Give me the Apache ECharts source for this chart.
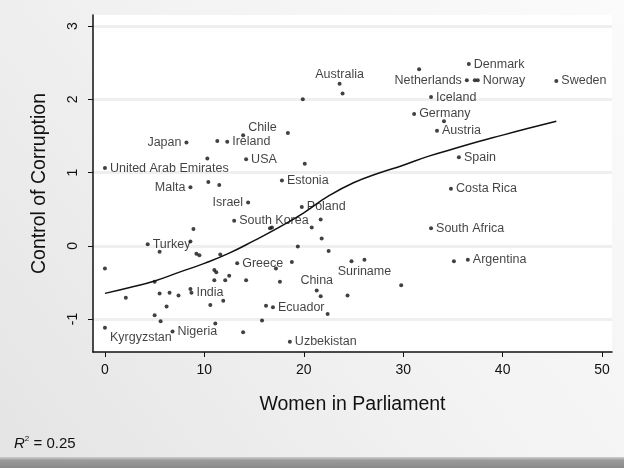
<!DOCTYPE html>
<html>
<head>
<meta charset="utf-8">
<script src="https://cdn.jsdelivr.net/npm/echarts@6/dist/echarts.min.js"></script>
<style>html,body{margin:0;padding:0;background:#fff}#c{width:624px;height:468px}</style>
</head>
<body>
<div id="c"></div>
<script>
// Women in parliament (%)
const women = [36.6,31.6,36.4,37.2,37.5,45.4,32.8,31.1,34.1,33.4,35.6,23.6,23.9,19.9,13.9,12.3,11.3,8.2,18.4,10.3,14.2,20.1,0.0,17.8,10.4,11.5,8.6,14.4,13.0,19.8,16.6,16.8,21.7,20.8,21.8,19.4,22.5,8.9,4.3,8.6,5.5,9.2,9.5,11.6,0.0,11.0,11.2,13.3,17.2,18.8,11.0,12.1,12.5,14.2,17.6,5.0,2.1,5.5,6.5,7.4,8.6,8.7,6.2,10.6,11.9,5.0,5.6,11.1,15.8,0.0,6.8,13.9,16.9,16.2,21.3,21.7,22.4,24.4,18.6,34.8,32.8,24.8,26.1,29.8,35.1,36.5];
// Control of corruption
const corruption = [2.48,2.41,2.26,2.26,2.26,2.25,2.03,1.80,1.70,1.57,1.21,2.21,2.08,2.00,1.51,1.42,1.43,1.41,1.54,1.19,1.18,1.12,1.06,0.89,0.87,0.83,0.80,0.59,0.34,0.53,0.24,0.25,0.36,0.25,0.10,-0.01,-0.07,0.23,0.02,0.06,-0.08,-0.11,-0.13,-0.12,-0.31,-0.33,-0.36,-0.24,-0.31,-0.22,-0.47,-0.47,-0.41,-0.47,-0.49,-0.49,-0.71,-0.65,-0.64,-0.68,-0.59,-0.64,-0.83,-0.81,-0.75,-0.95,-1.03,-1.06,-1.02,-1.12,-1.17,-1.18,-0.84,-0.82,-0.61,-0.69,-0.93,-0.68,-1.31,0.78,0.24,-0.21,-0.19,-0.54,-0.21,-0.19];
// Country labels ('' = unlabeled)
const countries = ['Denmark','','Netherlands','','Norway','Sweden','Iceland','Germany','','Austria','Spain','Australia','','','Chile','Ireland','','Japan','','','USA','','United Arab Emirates','Estonia','','','Malta','Israel','South Korea','Poland','','','','','','','','','Turkey','','','','','','','','','Greece','','','','','','','','','','','','','','India','','','','','','','','Kyrgyzstan','Nigeria','','Ecuador','','China','','','','Uzbekistan','Costa Rica','South Africa','','Suriname','','','Argentina'];
// Fitted curve
const fitX = [0,2.5,5,7.5,10,12.5,15,17.5,20,22.5,25,27.5,30,32.5,35,37.5,40,42.5,45.4];
const fitY = [-0.65,-0.57,-0.48,-0.36,-0.24,-0.10,0.07,0.25,0.45,0.68,0.86,0.99,1.10,1.22,1.32,1.42,1.51,1.60,1.70];
const xTicks = [0,10,20,30,40,50];
const yTicks = [-1,0,1,2,3];

const FONT = "'Liberation Sans', Arial, sans-serif";
const leftLabels = {'Japan':1,'Malta':1,'Israel':1,'Netherlands':1};
const topLabels = {'Australia':1,'China':1};
const bottomLabels = {'Suriname':1};
const offsets = {'Chile':[0,-8],'Kyrgyzstan':[0,10]};

const pts = women.map((w,i)=>{
  const name = countries[i];
  const p = {value:[w, corruption[i]], name:name};
  if (name) {
    let pos = 'right';
    if (leftLabels[name]) pos = 'left';
    if (topLabels[name]) pos = 'top';
    if (bottomLabels[name]) pos = 'bottom';
    p.label = {show:true, position:pos, distance: (pos==='top')?1:3, formatter:name, offset: offsets[name]||[0,0]};
  }
  return p;
});

const chart = echarts.init(document.getElementById('c'));
chart.setOption({
  animation:false,
  backgroundColor:{type:'linear',x:0,y:1,x2:1,y2:0,colorStops:[{offset:0,color:'#e4e4e4'},{offset:0.5,color:'#f2f2f2'},{offset:1,color:'#fbfbfb'}]},
  grid:{left:93,right:12,top:15,bottom:116,show:true,backgroundColor:'#ffffff',borderWidth:0},
  xAxis:{type:'value',min:-1.2,max:51,
    name:'Women in Parliament',nameLocation:'middle',nameGap:43,
    nameTextStyle:{fontFamily:FONT,fontSize:19.5,color:'#111'},
    axisLine:{show:true,onZero:false,lineStyle:{color:'#111',width:1.5}},
    axisTick:{show:true,length:5,lineStyle:{color:'#111'},customValues:xTicks},
    axisLabel:{fontFamily:FONT,fontSize:14,color:'#111',margin:11,customValues:xTicks},
    splitLine:{show:false}},
  yAxis:{type:'value',min:-1.45,max:3.15,
    name:'Control of Corruption',nameLocation:'middle',nameGap:43,
    nameTextStyle:{fontFamily:FONT,fontSize:19.5,color:'#111'},
    axisLine:{show:true,onZero:false,lineStyle:{color:'#111',width:1.5}},
    axisTick:{show:true,length:5,lineStyle:{color:'#111'},customValues:yTicks},
    axisLabel:{fontFamily:FONT,fontSize:14,color:'#111',margin:13,rotate:90,customValues:yTicks},
    splitLine:{show:true,lineStyle:{color:'#efefef',width:3}}},
  series:[
    {type:'scatter',data:pts,symbol:'circle',symbolSize:4,itemStyle:{color:'#111'},
     label:{fontFamily:FONT,fontSize:12.5,color:'#111'},z:3},
    {type:'line',data:fitX.map((x,i)=>[x,fitY[i]]),smooth:true,showSymbol:false,symbol:'none',
     lineStyle:{color:'#111',width:1.5},z:2}
  ],
  graphic:[
    {type:'text',left:14,top:435,style:{text:'{i|R}{s|2}{n|\u00a0= 0.25}',fontFamily:FONT,fontSize:15,fill:'#111',
      rich:{i:{fontStyle:'italic',fontFamily:FONT,fontSize:15,fill:'#111'},
            s:{fontFamily:FONT,fontSize:8,fill:'#111',verticalAlign:'top',padding:[0,0,9,0]},
            n:{fontFamily:FONT,fontSize:15,fill:'#111'}}}},
    {type:'rect',shape:{x:0,y:457,width:624,height:11},style:{fill:{type:'linear',x:0,y:0,x2:0,y2:1,colorStops:[{offset:0,color:'#cfcfcf'},{offset:0.3,color:'#9a9a9a'},{offset:1,color:'#8a8a8a'}]}}}
  ]
});
</script>
</body>
</html>
